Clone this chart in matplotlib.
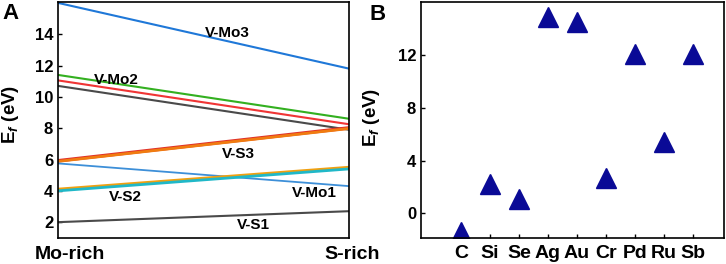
import matplotlib
matplotlib.use('Agg')
import matplotlib.pyplot as plt

plt.rcParams['font.family'] = ['Liberation Sans', 'DejaVu Sans']
plt.rcParams['font.weight'] = 'bold'
plt.rcParams['mathtext.fontset'] = 'custom'
plt.rcParams['mathtext.rm'] = 'Liberation Sans:bold'
plt.rcParams['mathtext.it'] = 'Liberation Sans:bold:italic'
plt.rcParams['mathtext.bf'] = 'Liberation Sans:bold'

# panel A: formation energy at Mo-rich (left) and S-rich (right) limits
line_start = [16.0, 11.4, 11.05, 10.7, 5.92, 5.88, 5.75, 4.1, 4.0, 2.0]
line_end = [11.8, 8.6, 8.25, 7.9, 8.02, 7.98, 4.3, 5.5, 5.4, 2.7]
line_colors = ['#1f78d8', '#33b020', '#f03535', '#4a4a4a', '#e0302a', '#f07c10',
               '#3d8fd8', '#f0a010', '#20b8c8', '#4a4a4a']
line_widths = [1.5, 1.5, 1.5, 1.5, 2.5, 2.0, 1.3, 2.2, 2.0, 1.5]

labels = ['V-Mo3', 'V-Mo2', 'V-S3', 'V-S2', 'V-Mo1', 'V-S1']
label_x = [0.58, 0.20, 0.62, 0.23, 0.88, 0.67]
label_y = [14.1, 11.05, 6.35, 3.6, 3.85, 1.85]

# panel B: dopants
dopants = ['C', 'Si', 'Se', 'Ag', 'Au', 'Cr', 'Pd', 'Ru', 'Sb']
ef_dopant = [-1.4, 2.2, 1.05, 14.9, 14.5, 2.7, 12.1, 5.4, 12.1]

fig = plt.figure(figsize=(7.26, 2.64), dpi=100)
ax1 = fig.add_axes([0.080, 0.098, 0.401, 0.894])
ax2 = fig.add_axes([0.580, 0.098, 0.417, 0.894])

for s, e, c, w in zip(line_start, line_end, line_colors, line_widths):
    ax1.plot([0, 1], [s, e], color=c, lw=w)
for t, x, y in zip(labels, label_x, label_y):
    ax1.text(x, y, t, ha='center', va='center', fontsize=11, fontweight='bold')

ax1.set_xlim(0, 1)
ax1.set_ylim(0.98, 16.05)
ax1.set_yticks([2, 4, 6, 8, 10, 12, 14])
ax1.set_xticks([])
# end-point labels sit a bit right of the axis ends in the original
ax1.text(0.04, -0.088, 'Mo-rich', transform=ax1.transAxes, ha='center', va='baseline',
         fontsize=14, fontweight='bold')
ax1.text(1.01, -0.088, 'S-rich', transform=ax1.transAxes, ha='center', va='baseline',
         fontsize=14, fontweight='bold')
ax1.set_ylabel('E$_f$ (eV)', fontsize=13.5, fontweight='bold')
ax1.yaxis.set_label_coords(-0.128, 0.525)

ax2.plot(range(len(dopants)), ef_dopant, linestyle='none', marker='^',
         markersize=15, color='#0a0a96')
ax2.set_xlim(-1.37, 9.06)
ax2.set_ylim(-1.9, 16.05)
ax2.set_yticks([0, 4, 8, 12])
ax2.set_xticks(range(len(dopants)))
ax2.set_xticklabels(dopants, fontsize=14, fontweight='bold')
ax2.set_ylabel('E$_f$ (eV)', fontsize=13.5, fontweight='bold')
ax2.yaxis.set_label_coords(-0.13, 0.51)

for ax in (ax1, ax2):
    ax.tick_params(direction='in', length=3, width=1, labelsize=12)
    for lbl in ax.get_yticklabels():
        lbl.set_fontweight('bold')
    for sp in ax.spines.values():
        sp.set_linewidth(1.2)
ax2.tick_params(axis='x', labelsize=14, pad=5)

fig.text(0.003, 0.99, 'A', fontsize=16, fontweight='bold', va='top')
fig.text(0.509, 0.985, 'B', fontsize=16, fontweight='bold', va='top')

fig.savefig('out.png', dpi=100)
